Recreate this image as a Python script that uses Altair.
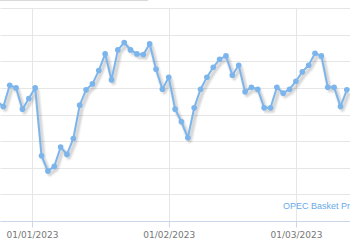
import altair as alt
import pandas as pd

# OPEC basket price (USD/bbl), consecutive trading sessions
session = list(range(56))
price = [83.0, 82.6, 84.2, 84.0, 82.4, 83.2, 84.0, 78.9, 77.75, 78.1,
         79.55, 79.0, 80.2, 82.7, 83.85, 84.3, 85.3, 86.55, 84.6, 86.85,
         87.4, 86.85, 86.55, 86.5, 87.3, 85.4, 83.9, 84.8, 82.4, 81.45,
         80.25, 82.5, 83.9, 84.8, 85.55, 86.15, 86.4, 84.95, 85.7, 83.7,
         84.05, 83.9, 82.5, 82.5, 84.05, 83.6, 83.9, 84.5, 85.2, 85.7,
         86.6, 86.4, 84.05, 84.05, 82.6, 83.85]

tick_pos = [5.5, 27, 47]
tick_labels = ["01/01/2023", "01/02/2023", "01/03/2023"]
series_name = ["OPEC Basket Price"]

df = pd.DataFrame({"i": session, "p": price})

label_expr = " : ".join(
    f"datum.value == {v} ? '{l}'" for v, l in zip(tick_pos[:-1], tick_labels[:-1])
) + f" : '{tick_labels[-1]}'"

x_enc = alt.X("i:Q", scale=alt.Scale(domain=[0.47, 55.5], nice=False, zero=False),
              axis=alt.Axis(values=tick_pos, labelExpr=label_expr, title=None,
                            grid=True, gridColor="#e6e6e6", gridWidth=1,
                            tickColor="#ccd6eb", tickSize=6, domainColor="#ccd6eb",
                            labelFont="DejaVu Sans", labelFontSize=9, labelColor="#777777",
                            labelPadding=3))
y_enc = alt.Y("p:Q", scale=alt.Scale(domain=[74, 90], nice=False, zero=False),
              axis=alt.Axis(values=list(range(74, 91, 2)), labels=False, ticks=False,
                            domain=False, title=None, grid=True, gridColor="#e6e6e6"))

base = alt.Chart(df)
shadows = [
    base.mark_line(clip=True, color="#000000", strokeWidth=w, opacity=o,
                   xOffset=2, yOffset=3, strokeJoin="round")
    .encode(x=x_enc, y=y_enc)
    for w, o in [(7, 0.03), (5, 0.05), (3, 0.07)]
]
line = base.mark_line(clip=True, color="#7cb5ec", strokeWidth=2).encode(x=x_enc, y=y_enc)
pts = base.mark_circle(clip=True, color="#7cb5ec", size=32, opacity=1).encode(x=x_enc, y=y_enc)

legend = alt.Chart(pd.DataFrame({"t": series_name})).mark_text(
    align="left", baseline="middle", font="Liberation Sans", fontSize=9,
    color="#6aaae8").encode(text="t:N", x=alt.value(283), y=alt.value(198))

topbar = alt.Chart(pd.DataFrame({"a": [0]})).mark_rule(color="#d9d9d9", strokeWidth=2).encode(
    x=alt.value(0), x2=alt.value(148), y=alt.value(-8))

chart = alt.layer(*shadows, line, pts, legend, topbar).properties(
    width=350, height=213,
    autosize=alt.AutoSizeParams(type="none"),
    padding={"left": 0, "top": 8, "right": 0, "bottom": 29},
).configure_view(stroke=None)

chart.save("out.html", embed_options={"renderer": "svg", "actions": False})
